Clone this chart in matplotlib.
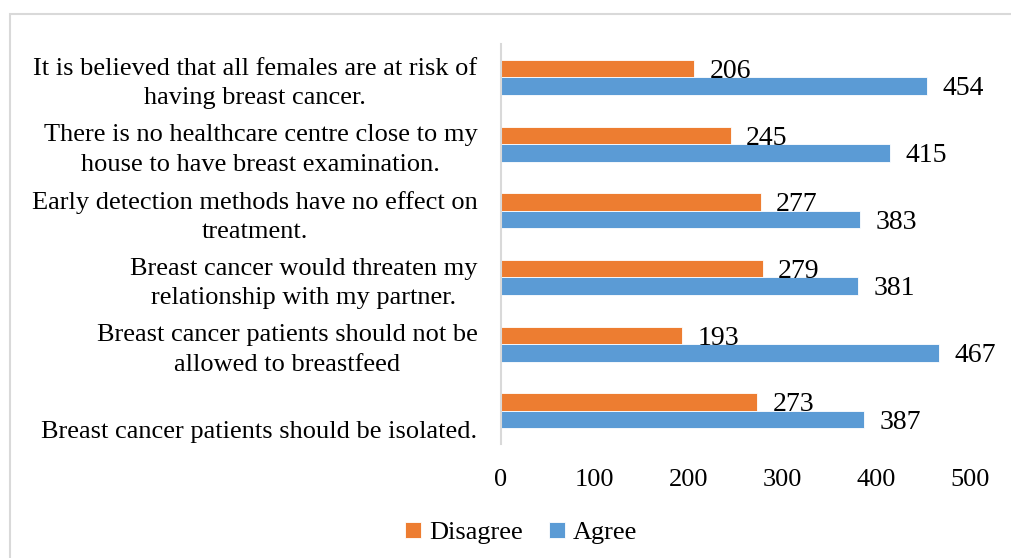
import matplotlib.pyplot as plt
import matplotlib.transforms as mtransforms
from matplotlib.patches import Rectangle
import numpy as np

categories = [
    'Breast cancer patients should be isolated.',
    'Breast cancer patients should not be\nallowed to breastfeed',
    'Breast cancer would threaten my\nrelationship with my partner.',
    'Early detection methods have no effect on\ntreatment.',
    'There is no healthcare centre close to my\nhouse to have breast examination.',
    'It is believed that all females are at risk of\nhaving breast cancer.',
]
disagree = [273, 193, 279, 277, 245, 206]
agree = [387, 467, 381, 383, 415, 454]
xticks = [0, 100, 200, 300, 400, 500]

orange = '#ED7D31'
blue = '#5B9BD5'

plt.rcParams['font.family'] = ['Liberation Serif', 'DejaVu Serif']
plt.rcParams['font.size'] = 19

fig = plt.figure(figsize=(10.11, 5.58), dpi=100)
ax = fig.add_axes([501 / 1011, 1 - 444 / 558, (970 - 501) / 1011, 400 / 558])

y = np.arange(len(categories))
h = 0.2625
b1 = ax.barh(y + h / 2, disagree, height=h, color=orange, edgecolor='white', linewidth=0.6, label='Disagree')
b2 = ax.barh(y - h / 2, agree, height=h, color=blue, edgecolor='white', linewidth=0.6, label='Agree')

for bars in (b1, b2):
    for r in bars:
        ax.annotate(str(int(r.get_width())), (r.get_width(), r.get_y() + r.get_height() / 2),
                    xytext=(11, -2), textcoords='offset points', ha='left', va='center', fontsize=20)

ax.set_xlim(0, 500)
ax.set_ylim(-0.5, len(categories) - 0.5)
ax.set_xticks(xticks)
ax.set_yticks(y)
ax.set_yticklabels(categories, multialignment='center', linespacing=1.42)
ax.tick_params(axis='both', length=0)
ax.tick_params(axis='y', pad=17)
ax.tick_params(axis='x', pad=18)

# shift labels a little down, like the original
for i, lab in enumerate(ax.get_yticklabels()):
    dy = -19 if i == 0 else 0
    lab.set_transform(lab.get_transform() + mtransforms.ScaledTranslation(0, dy / 100, fig.dpi_scale_trans))

for s in ['top', 'right', 'bottom']:
    ax.spines[s].set_visible(False)
ax.spines['left'].set_color('#d9d9d9')
ax.spines['left'].set_linewidth(1.5)

fig.legend(handles=[b1, b2], loc='center', bbox_to_anchor=(521 / 1011, 1 - 533 / 558), ncol=2,
           frameon=False, handlelength=0.6, handleheight=0.6, handletextpad=0.3, columnspacing=1.0,
           fontsize=19)

fig.patches.append(Rectangle((10 / 1011, -0.1), 1.2, 1.1 - 14 / 558, transform=fig.transFigure,
                             fill=False, edgecolor='#d9d9d9', linewidth=1.5))

fig.savefig('out.png', dpi=100)
